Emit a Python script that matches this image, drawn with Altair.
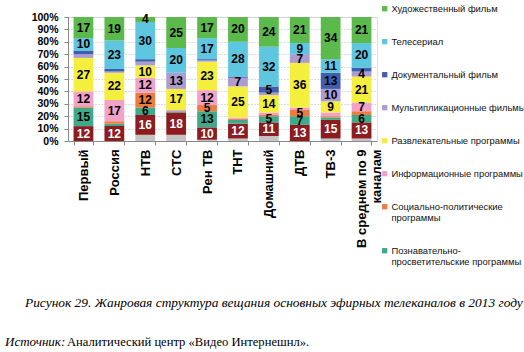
import altair as alt
import pandas as pd

channels = ["Первый", "Россия", "НТВ", "СТС", "Рен ТВ", "ТНТ", "Домашний", "ДТВ", "ТВ-3",
            "В среднем по 9 каналам"]

# stacking order, bottom to top
genres = ["Прочие", "Спортивные программы", "Познавательно-просветительские программы",
          "Социально-политические программы", "Информационные программы",
          "Развлекательные программы", "Мультипликационные фильмы",
          "Документальный фильм", "Телесериал", "Художественный фильм"]

colors = ["#c4c4c4", "#8c1c1f", "#3fa98a", "#ef7b3d", "#f2a2c8",
          "#f4ef3e", "#ad9ccf", "#3f5eae", "#5fc6e0", "#5cb94b"]

v_other    = [0, 0, 5, 5, 1, 2, 4, 0, 2, 2]
v_sport    = [12, 12, 16, 18, 10, 12, 11, 13, 15, 13]
v_educ     = [15, 2, 6, 1, 13, 3, 5, 7, 2, 6]
v_social   = [1, 2, 12, 0, 5, 1, 1, 5, 1, 3]
v_news     = [12, 17, 12, 1, 12, 1, 2, 2, 3, 7]
v_entert   = [27, 22, 10, 17, 23, 25, 14, 36, 9, 21]
v_anim     = [3, 1, 3, 13, 1, 7, 2, 7, 10, 4]
v_docum    = [3, 2, 2, 0, 1, 1, 5, 0, 13, 3]
v_series   = [10, 23, 30, 20, 17, 28, 32, 9, 11, 20]
v_film     = [17, 19, 4, 25, 17, 20, 24, 21, 34, 21]

values = [v_other, v_sport, v_educ, v_social, v_news, v_entert, v_anim, v_docum, v_series, v_film]

legend_genres = genres[2:][::-1]

caption = "Рисунок 29. Жанровая структура вещания основных эфирных телеканалов в 2013 году"
source_lbl = "Источник:"
source_txt = "Аналитический центр «Видео Интернешнл»."

rows = []
for gi, g in enumerate(genres):
    for ci, c in enumerate(channels):
        rows.append({"channel": c, "genre": g, "gi": gi, "value": values[gi][ci]})
df = pd.DataFrame(rows)

W, H = 309, 124
L, T = 68, 17

base = alt.Chart(df).transform_stack(
    stack="value", groupby=["channel"], sort=[alt.SortField("gi", order="ascending")],
    as_=["y0", "y1"]
).transform_calculate(mid="(datum.y0 + datum.y1) / 2")

xaxis = alt.Axis(labelAngle=-90, labelFontSize=13, labelFontWeight="bold",
                 labelFont="Liberation Sans", labelColor="#000",
                 labelAlign="right", labelBaseline="middle", labelPadding=4,
                 labelExpr="datum.label == 'В среднем по 9 каналам' ? ['В среднем по 9', 'каналам'] : datum.label",
                 tickBand="extent", ticks=True, tickSize=4, tickColor="#888",
                 domainColor="#888", grid=False, labelLineHeight=15)
xscale = alt.Scale(paddingInner=0.36, paddingOuter=0.18)

yaxis = alt.Axis(values=list(range(0, 101, 10)), labelExpr="datum.value + '%'",
                 labelFontSize=10.5, labelFontWeight="bold", labelFont="Liberation Sans",
                 labelColor="#000", tickSize=4, tickColor="#888", domainColor="#888",
                 gridColor="#bbb", gridDash=[1, 2], labelPadding=6,
                 labelOverlap=False, labelBound=False, labelFlush=False)
yscale = alt.Scale(domain=[0, 100], nice=False)

legend_expr = ("datum.label == 'Социально-политические программы' ? ['Социально-политические', 'программы'] : "
               "datum.label == 'Познавательно-просветительские программы' ? ['Познавательно-', 'просветительские программы'] : datum.label")

bars = base.mark_bar().encode(
    x=alt.X("channel:N", sort=channels, title=None, scale=xscale, axis=xaxis),
    y=alt.Y("y0:Q", scale=yscale, title=None, axis=yaxis),
    y2="y1:Q",
    color=alt.Color("genre:N",
                    scale=alt.Scale(domain=genres[::-1], range=colors[::-1]),
                    legend=alt.Legend(values=legend_genres, title=None, orient="none",
                                      legendX=312, legendY=-13, symbolType="square",
                                      symbolSize=28, symbolStrokeWidth=0, labelFontSize=9.4,
                                      labelFont="Liberation Sans", labelColor="#111",
                                      labelLimit=200, rowPadding=22, labelOffset=2,
                                      labelExpr=legend_expr, labelBaseline="middle")),
)

labels = base.transform_filter(
    (alt.datum.value >= 4) & (alt.datum.gi > 0)
).mark_text(fontSize=12, fontWeight="bold", font="Liberation Sans").encode(
    x=alt.X("channel:N", sort=channels, title=None, scale=xscale, axis=xaxis),
    y=alt.Y("mid:Q", scale=yscale, title=None, axis=yaxis),
    text="value:Q",
    color=alt.condition(alt.datum.gi == 1, alt.value("white"), alt.value("black")),
)

cap = alt.Chart(pd.DataFrame({"t": [caption]})).mark_text(
    align="left", baseline="middle", fontSize=13.4, fontStyle="italic",
    font="Liberation Serif", color="#000"
).encode(text="t:N", x=alt.value(25 - L), y=alt.value(303 - T))

src1 = alt.Chart(pd.DataFrame({"t": [source_lbl]})).mark_text(
    align="left", baseline="middle", fontSize=13, fontStyle="italic",
    font="Liberation Serif", color="#000"
).encode(text="t:N", x=alt.value(5 - L), y=alt.value(342 - T))

src2 = alt.Chart(pd.DataFrame({"t": [source_txt]})).mark_text(
    align="left", baseline="middle", fontSize=12.6,
    font="Liberation Serif", color="#000"
).encode(text="t:N", x=alt.value(67 - L), y=alt.value(342 - T))

chart = alt.layer(bars, labels, cap, src1, src2).properties(
    width=W, height=H,
    autosize=alt.AutoSizeParams(type="none"),
    padding={"left": L, "top": T, "right": 524 - L - W, "bottom": 352 - T - H},
).configure_view(stroke=None).configure(background="white")

chart.save("out.html", embed_options={"renderer": "svg", "actions": False})
